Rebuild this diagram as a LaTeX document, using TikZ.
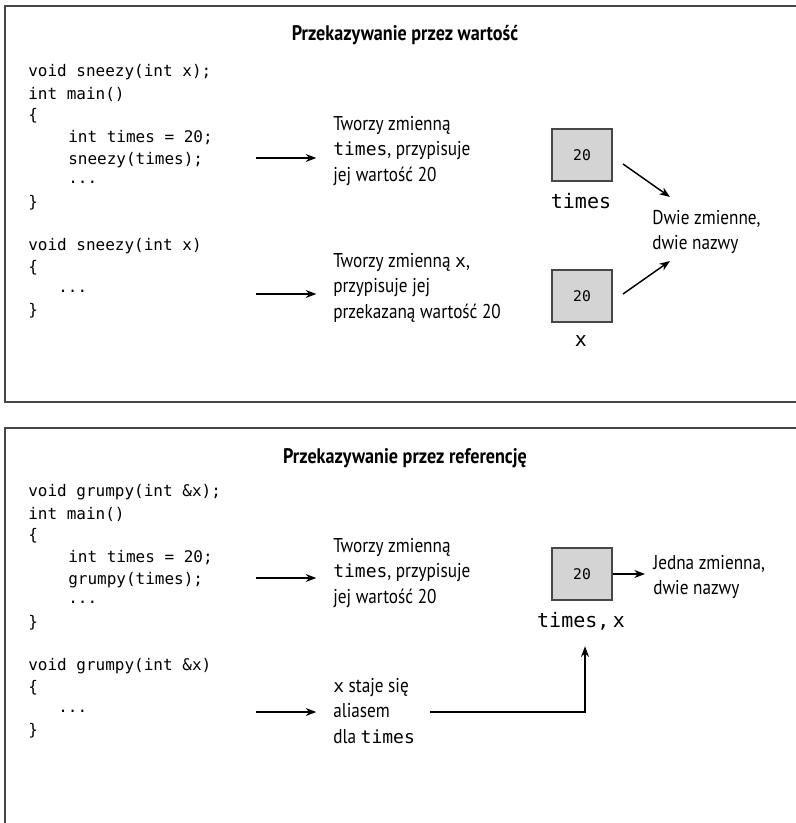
\documentclass[tikz,border=0pt]{standalone}
\usepackage{fontspec}
\usetikzlibrary{arrows.meta}
\newfontfamily\labf[FakeStretch=0.86]{PT Sans}
\newfontfamily\codef{DejaVu Sans Mono}
\newcommand{\mt}[1]{{\codef\fontsize{13.5}{19}\selectfont #1}}
\begin{document}
\begin{tikzpicture}[x=0.75pt,y=-0.75pt,
  frame/.style={draw=black!72,line width=1.9pt},
  codeline/.style={anchor=west,inner sep=0pt,text=black,font=\codef\fontsize{12}{16}\selectfont},
  note/.style={anchor=north west,inner sep=0pt,align=left,font=\labf\fontsize{15}{19}\selectfont},
  heading/.style={inner sep=0pt,font=\labf\bfseries\fontsize{15.8}{19}\selectfont},
  cell/.style={draw=black!72,fill=black!17,line width=1.5pt,minimum width=45pt,minimum height=39pt,inner sep=0pt,font=\codef\fontsize{11}{13}\selectfont},
  varname/.style={inner sep=0pt,font=\codef\fontsize{15}{18}\selectfont},
  arr/.style={line width=1.1pt,-{Stealth[length=8pt,width=6pt]}}]
\useasboundingbox (0,0) rectangle (795,823);
\fill[white] (0,0) rectangle (795,823);

% panel frames (open on the right / bottom)
\draw[frame] (800,6) -- (5,6) -- (5,402) -- (800,402);
\draw[frame] (800,428) -- (5,428) -- (5,830);

% ---------- pass by value ----------
\node[heading] (h1) at (405,35) {Przekazywanie przez wartość};

\node[codeline] (p1) at (28,72) {void sneezy(int x);};
\node[codeline] (p2) at (28,94) {int main()};
\node[codeline] (p3) at (28,116) {\{};
\node[codeline] (p4) at (68,138) {int times = 20;};
\node[codeline] (p5) at (68,160) {sneezy(times);};
\node[codeline] (p6) at (68,182) {...};
\node[codeline] (p7) at (28,203) {\}};
\node[codeline] (p8) at (28,246) {void sneezy(int x)};
\node[codeline] (p9) at (28,268) {\{};
\node[codeline] (p10) at (58,291) {...};
\node[codeline] (p11) at (28,311) {\}};

\node[note] (t1) at (333,116) {Tworzy zmienną\\\mt{times}, przypisuje\\jej wartość 20};
\node[note] (t2) at (333,253) {Tworzy zmienną \mt{x},\\przypisuje jej\\przekazaną wartość 20};

\coordinate (s1) at (256,158);
\coordinate (s2) at (256,294);
\draw[arr] (s1) -- ([xshift=-12.5pt]s1 -| t1.west);
\draw[arr] (s2) -- ([xshift=-12.5pt]s2 -| t2.west);

\node[cell] (b1) at (582,155) {20};
\node[varname] (n1) at (581,201) {times};
\node[cell] (b2) at (582,296) {20};
\node[varname] (n2) at (581,341) {x};

\node[note] (d) at (652,210) {Dwie zmienne,\\dwie nazwy};
\coordinate (d1) at (670,197);
\coordinate (d2) at (670,261);
\draw[arr] ([shift={(10,9)}]b1.east) -- (d1);
\draw[arr] ([shift={(10,-2)}]b2.east) -- (d2);

% ---------- pass by reference ----------
\node[heading] (h2) at (405,458) {Przekazywanie przez referencję};

\node[codeline] (r1) at (28,492) {void grumpy(int \&x);};
\node[codeline] (r2) at (28,514) {int main()};
\node[codeline] (r3) at (28,536) {\{};
\node[codeline] (r4) at (68,558) {int times = 20;};
\node[codeline] (r5) at (68,580) {grumpy(times);};
\node[codeline] (r6) at (68,602) {...};
\node[codeline] (r7) at (28,623) {\}};
\node[codeline] (r8) at (28,666) {void grumpy(int \&x)};
\node[codeline] (r9) at (28,688) {\{};
\node[codeline] (r10) at (58,711) {...};
\node[codeline] (r11) at (28,731) {\}};

\node[note] (u1) at (333,538) {Tworzy zmienną\\\mt{times}, przypisuje\\jej wartość 20};
\node[note] (u2) at (333,678) {\mt{x} staje się\\aliasem\\dla \mt{times}};

\coordinate (s3) at (256,578);
\coordinate (s4) at (256,712);
\draw[arr] (s3) -- ([xshift=-12.5pt]s3 -| u1.west);
\draw[arr] (s4) -- ([xshift=-12.5pt]s4 -| u2.west);

\node[cell] (b3) at (582,574) {20};
\node[varname] (n3) at (581,621) {times,\,x};

\node[note] (j) at (653,555) {Jedna zmienna,\\dwie nazwy};
\draw[arr] (b3.east) -- ([xshift=-6pt]b3.east -| j.west);

\coordinate (e1) at (430,712);
\coordinate (e2) at (585,712);
\draw[arr] (e1) -- (e2) -- ([yshift=-12pt]n3.south -| e2);
\end{tikzpicture}
\end{document}
